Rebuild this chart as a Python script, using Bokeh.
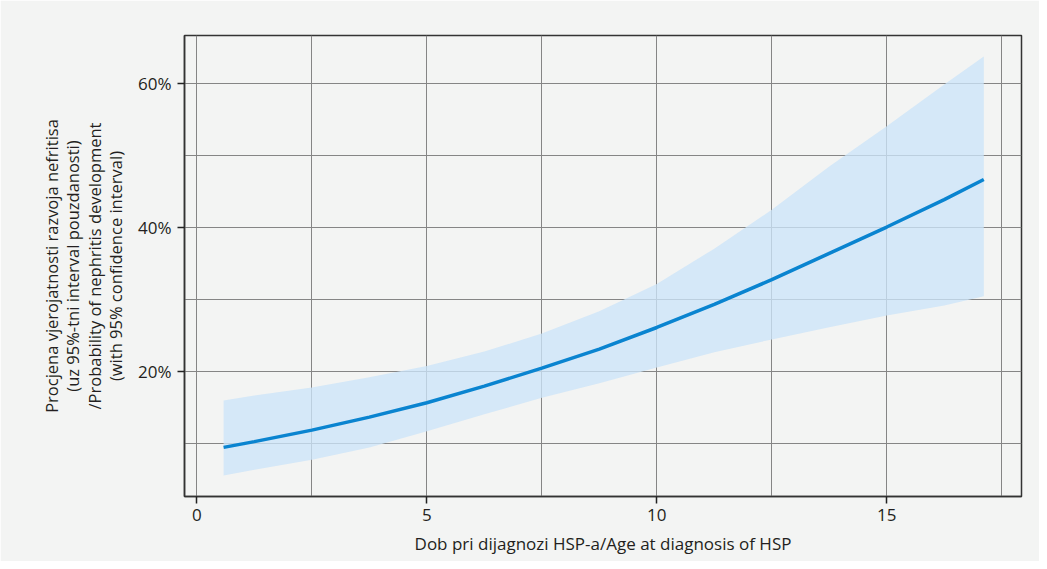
from bokeh.plotting import figure
from bokeh.models import FixedTicker, PrintfTickFormatter, Range1d
from bokeh.embed import file_html
from bokeh.resources import INLINE

# Data
age = [0.58, 1.25, 2.5, 3.75, 5.0, 6.25, 7.5, 8.75, 10.0, 11.25, 12.5, 13.75, 15.0, 16.25, 17.11]
prob = [9.5, 10.3, 11.9, 13.7, 15.7, 18.0, 20.5, 23.15, 26.15, 29.35, 32.8, 36.45, 40.1, 43.9, 46.7]
lower = [5.6, 6.4, 7.8, 9.5, 11.75, 14.1, 16.4, 18.4, 20.6, 22.7, 24.5, 26.2, 27.8, 29.2, 30.5]
upper = [16.0, 16.7, 17.8, 19.25, 20.8, 22.8, 25.3, 28.4, 32.2, 37.1, 42.5, 48.5, 54.1, 59.9, 63.8]

x_major = [0, 5, 10, 15]
x_minor = [2.5, 7.5, 12.5, 17.5]
y_major = [20, 40, 60]
y_minor = [10, 30, 50]

BG = "#f3f4f3"
TXT = "#231f20"
FONT = "Open Sans"

p = figure(width=1039, height=561, output_backend="svg", toolbar_location=None,
           x_range=Range1d(-0.27, 17.93), y_range=Range1d(2.68, 66.7),
           min_border_left=184, min_border_right=18, min_border_top=35, min_border_bottom=65)
p.background_fill_color = BG
p.border_fill_color = BG
p.outline_line_color = "#333333"
p.outline_line_width = 1.5

p.varea(x=age, y1=lower, y2=upper, fill_color="#cce4f8", fill_alpha=0.78)
p.line(x=age, y=prob, line_color="#0a84d0", line_width=3.5)

p.xaxis.ticker = FixedTicker(ticks=x_major, minor_ticks=x_minor)
p.yaxis.ticker = FixedTicker(ticks=y_major, minor_ticks=y_minor)
p.yaxis.formatter = PrintfTickFormatter(format="%d%%")

for g in (p.xgrid, p.ygrid):
    g.grid_line_color = "#858585"
    g.grid_line_width = 1
    g.minor_grid_line_color = "#858585"
    g.minor_grid_line_width = 1

for ax in (p.xaxis, p.yaxis):
    ax.axis_line_color = "#333333"
    ax.axis_line_width = 1.5
    ax.major_tick_line_color = "#222222"
    ax.major_tick_line_width = 1.5
    ax.major_tick_out = 7
    ax.major_tick_in = 0
    ax.minor_tick_line_color = None
    ax.major_label_text_font = FONT
    ax.major_label_text_font_size = "17px"
    ax.major_label_text_color = TXT
    ax.axis_label_text_font = FONT
    ax.axis_label_text_font_style = "normal"
    ax.axis_label_text_color = TXT

p.xaxis.axis_label_text_font_size = "17px"
p.yaxis.axis_label_text_font_size = "16.5px"
p.xaxis.major_label_standoff = 5
p.yaxis.major_label_standoff = 6
p.xaxis.axis_label = "Dob pri dijagnozi HSP-a/Age at diagnosis of HSP"
p.xaxis.axis_label_standoff = 8
p.yaxis.axis_label = ("Procjena vjerojatnosti razvoja nefritisa\n"
                      "(uz 95%-tni interval pouzdanosti)\n"
                      "/Probability of nephritis development\n"
                      "(with 95% confidence interval)")
p.yaxis.axis_label_standoff = 8
p.yaxis.axis_label_text_line_height = 0.93

open("out.html", "w").write(file_html(p, INLINE))
